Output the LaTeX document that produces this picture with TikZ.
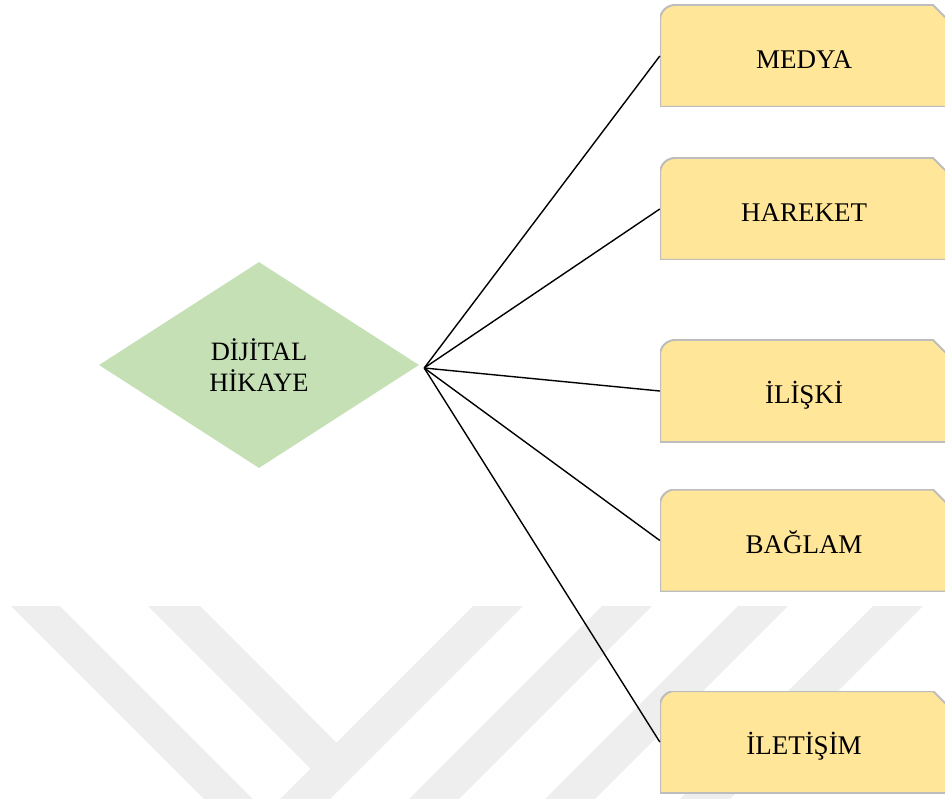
\documentclass[tikz,border=0pt]{standalone}
\usepackage{fontspec}
\setmainfont{Liberation Serif}
\usetikzlibrary{shapes.geometric, calc}
\definecolor{yesil}{HTML}{C5E0B4}
\definecolor{sari}{HTML}{FFE699}
\definecolor{kenar}{HTML}{BDBDBD}
\definecolor{filigran}{HTML}{EEEEEE}
\tikzset{
  every picture/.style={x=1pt, y=-1pt},
  elmas/.style={diamond, fill=yesil, minimum width=320pt, minimum height=206pt, inner sep=0pt, align=center,
                font=\fontsize{26.5}{31.5}\selectfont},
  kutu/.style={minimum width=288pt, minimum height=102pt, inner sep=0pt, text height=25pt, text depth=0pt,
               font=\fontsize{27}{31}\selectfont,
               path picture={
                 \fill[sari, draw=kenar, line width=2pt] (path picture bounding box.south west)
                   -- ([yshift=-15pt]path picture bounding box.north west) arc[start angle=180, end angle=90, radius=15pt]
                   -- ([xshift=-15pt]path picture bounding box.north east) -- ([yshift=-15pt]path picture bounding box.north east)
                   -- (path picture bounding box.south east) -- cycle;
               }},
  bag/.style={draw=black, line width=1.4pt},
  iz/.style={fill=filigran},
}

\begin{document}
\begin{tikzpicture}
  \useasboundingbox (0,0) rectangle (945,799);
  \clip (0,0) rectangle (945,799);
  % filigran
  \fill[iz] (11,606) -- (60,606) -- (260,806) -- (211,806) -- cycle;
  \fill[iz] (148,606) -- (200,606) -- (336.5,742.5) -- (310.5,768.5) -- cycle;
  \foreach \x in {473, 602, 738, 873} \fill[iz] (\x,606) -- (\x+50,606) -- (\x-150,806) -- (\x-200,806) -- cycle;

  \node[elmas] (dijital) at (259,365) {DİJİTAL\\HİKAYE};
  \coordinate (hub) at ([xshift=5pt, yshift=-3pt]dijital.east);
  \foreach \ad/\yazi/\y in {medya/MEDYA/56, hareket/HAREKET/209, iliski/İLİŞKİ/391, baglam/BAĞLAM/540.5, iletisim/İLETİŞİM/742}
    \node[kutu] (\ad) at (804,\y) {\yazi};
  \foreach \ad in {medya, hareket, iliski, baglam, iletisim} \draw[bag] (hub) -- (\ad.west);
\end{tikzpicture}
\end{document}
